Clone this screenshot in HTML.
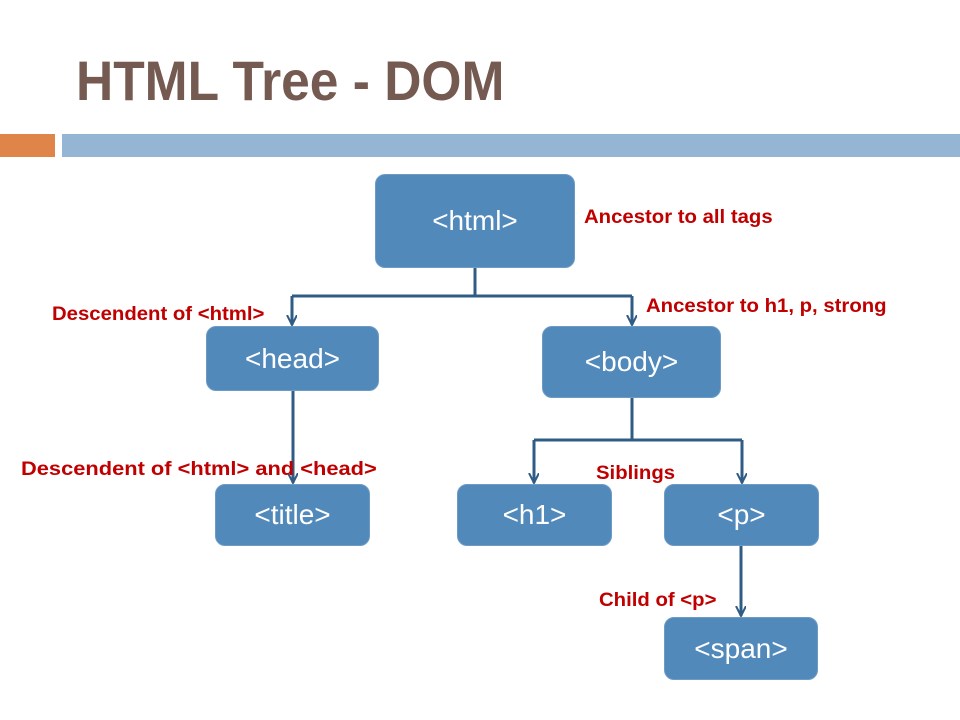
<!DOCTYPE html>
<html><head><style>
body{margin:0;width:960px;height:720px;background:#fff;position:relative;overflow:hidden;font-family:"Liberation Sans",sans-serif}
.t{position:absolute;left:76px;top:48px;font-size:56px;font-weight:bold;color:#745a50;transform:scaleX(0.92);transform-origin:left top;white-space:nowrap}
.b{position:absolute;background:#5289bb;border:1px solid #6d9bc6;border-radius:10px;color:#fff;font-size:28px;display:flex;align-items:center;justify-content:center}
.l{position:absolute;color:#c00000;font-weight:bold;font-size:19px;white-space:nowrap;transform:scaleX(1.07);transform-origin:left top;margin-top:-2px}
</style></head><body>
<div class="t">HTML Tree - DOM</div>
<div style="position:absolute;left:0;top:134px;width:55px;height:23px;background:#df8549"></div>
<div style="position:absolute;left:62px;top:134px;width:898px;height:23px;background:#94b5d4"></div>
<svg width="960" height="720" style="position:absolute;left:0;top:0">
<defs><marker id="a" markerWidth="12" markerHeight="12" refX="10" refY="5" orient="auto" markerUnits="userSpaceOnUse"><path d="M0,0 L10,5 L0,10" fill="none" stroke="#2f5c85" stroke-width="2"/></marker></defs>
<g stroke="#2f5c85" stroke-width="3" fill="none">
<path d="M475,267 V296 M292,296 H632"/>
<path d="M292,296 V325" marker-end="url(#a)"/>
<path d="M632,296 V325" marker-end="url(#a)"/>
<path d="M293,389 V483" marker-end="url(#a)"/>
<path d="M632,397 V440 M534,440 H742"/>
<path d="M534,440 V483" marker-end="url(#a)"/>
<path d="M742,440 V483" marker-end="url(#a)"/>
<path d="M741,544 V616" marker-end="url(#a)"/>
</g></svg>
<div class="b" style="left:375px;top:174px;width:198px;height:92px">&lt;html&gt;</div>
<div class="b" style="left:206px;top:326px;width:171px;height:63px">&lt;head&gt;</div>
<div class="b" style="left:542px;top:326px;width:177px;height:70px">&lt;body&gt;</div>
<div class="b" style="left:215px;top:484px;width:153px;height:60px">&lt;title&gt;</div>
<div class="b" style="left:457px;top:484px;width:153px;height:60px">&lt;h1&gt;</div>
<div class="b" style="left:664px;top:484px;width:153px;height:60px">&lt;p&gt;</div>
<div class="b" style="left:664px;top:617px;width:152px;height:61px">&lt;span&gt;</div>
<div class="l" style="left:584px;top:209px">Ancestor to all tags</div>
<div class="l" style="left:646px;top:298px">Ancestor to h1, p, strong</div>
<div class="l" style="left:52px;top:306px">Descendent of &lt;html&gt;</div>
<div class="l" style="left:21px;top:461px;transform:scaleX(1.15)">Descendent of &lt;html&gt; and &lt;head&gt;</div>
<div class="l" style="left:596px;top:465px">Siblings</div>
<div class="l" style="left:599px;top:592px">Child of &lt;p&gt;</div>
</body></html>
